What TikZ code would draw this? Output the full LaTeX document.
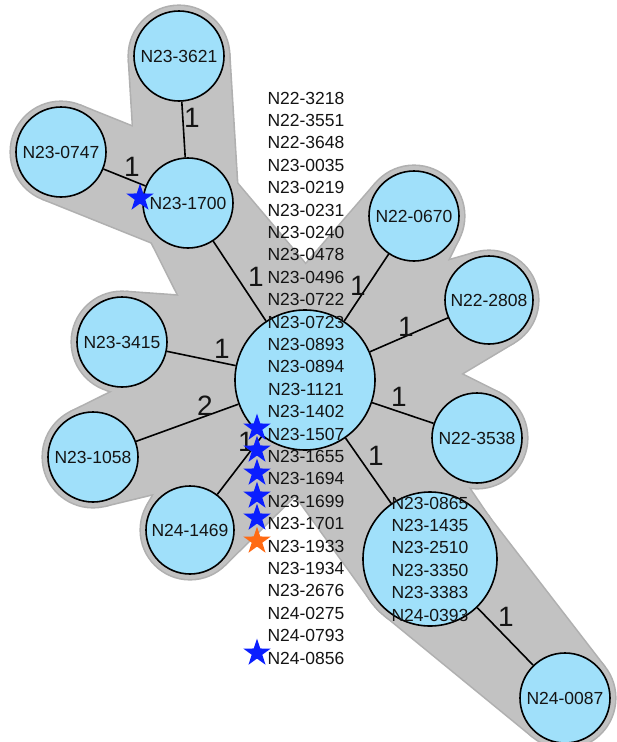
\documentclass[tikz,border=0pt]{standalone}
\usepackage{fontspec}
\setmainfont{Liberation Sans}
\usetikzlibrary{shapes.geometric,calc}
\pgfdeclarelayer{halo}
\pgfdeclarelayer{edges}
\pgfsetlayers{halo,edges,main}
\definecolor{nodefill}{HTML}{A0E0FA}
\definecolor{halofill}{HTML}{C2C2C2}
\definecolor{halorim}{HTML}{B0B0B0}
\definecolor{starblue}{HTML}{0A1EFF}
\definecolor{starorange}{HTML}{FF6A13}
\definecolor{txt}{HTML}{141414}
\tikzset{
  isolate/.style={circle, draw=black, line width=1.6pt, fill=nodefill, inner sep=0pt,
    minimum size=90pt, font=\fontsize{17.5}{22.4}\selectfont, text=txt},
  edgeline/.style={line width=1.6pt, draw=black},
  dist/.style={font=\fontsize{28}{30}\selectfont, text=txt, inner sep=0pt},
  namelist/.style={align=center, font=\fontsize{17.5}{22.4}\selectfont, inner sep=0pt, text=txt},
  bluestar/.style={star, star points=5, star point ratio=2.6, fill=starblue, draw=none,
    minimum size=29pt, inner sep=0pt},
  orangestar/.style={bluestar, fill=starorange},
}
\newcommand\haloshape[5]{%
  \fill[#1] (#2.center) circle[radius=#3pt];
  \fill[#1] (#4.center) circle[radius=#5pt];
  \fill[#1] let \p1=(#2.center), \p2=(#4.center),
     \n1={atan2(\y2-\y1,\x2-\x1)}, \n2={veclen(\x2-\x1,\y2-\y1)},
     \n3={acos((#3-#5)/\n2)} in
     ($(\p1)+({\n1+\n3}:#3pt)$) -- ($(\p2)+({\n1+\n3}:#5pt)$) --
     ($(\p2)+({\n1-\n3}:#5pt)$) -- ($(\p1)+({\n1-\n3}:#3pt)$) -- cycle;
}
\begin{document}
\begin{tikzpicture}[x=1pt,y=1pt]
\useasboundingbox (0,0) rectangle (617,-742);
% nodes
\node[isolate] (n3621) at (179,-56) {N23-3621};
\node[isolate] (n0747) at (61,-152) {N23-0747};
\node[isolate] (n1700) at (188,-203) {N23-1700};
\node[isolate, minimum size=140pt] (nC) at (305,-380) {};
\node[isolate] (n0670) at (414,-216) {N22-0670};
\node[isolate, minimum size=88pt] (n2808) at (489,-300) {N22-2808};
\node[isolate] (n3538) at (477,-438) {N22-3538};
\node[isolate] (n3415) at (122,-342) {N23-3415};
\node[isolate] (n1058) at (93,-457) {N23-1058};
\node[isolate, minimum size=88pt] (n1469) at (190,-530) {N24-1469};
\node[isolate, minimum size=134pt] (nL) at (430,-559) {};
\node[isolate] (n0087) at (565,-698) {N24-0087};
% labels of the large nodes
\node[namelist] (listC) at (306,-378) {N22-3218\\N22-3551\\N22-3648\\N23-0035\\N23-0219\\N23-0231\\N23-0240\\N23-0478\\N23-0496\\N23-0722\\N23-0723\\N23-0893\\N23-0894\\N23-1121\\N23-1402\\N23-1507\\N23-1655\\N23-1694\\N23-1699\\N23-1701\\N23-1933\\N23-1934\\N23-2676\\N24-0275\\N24-0793\\N24-0856};
\node[namelist] (listL) at (430,-559) {N23-0865\\N23-1435\\N23-2510\\N23-3350\\N23-3383\\N24-0393};
% halo
\begin{pgfonlayer}{halo}
\fill[white] (0,0) rectangle (617,-742);
\foreach \a/\ra/\b/\rb in {n3621/50/n1700/50, n0747/50/n1700/50, n1700/50/nC/75,
   nC/75/n0670/50, nC/75/n2808/49, nC/75/n3538/50, nC/75/n3415/50, nC/75/n1058/50,
   nC/75/n1469/49, nC/75/nL/72, nL/72/n0087/50}{
  \pgfmathsetmacro\rA{\ra+1.6}\pgfmathsetmacro\rB{\rb+1.6}
  \haloshape{halorim}{\a}{\rA}{\b}{\rB}
}
\foreach \a/\ra/\b/\rb in {n3621/50/n1700/50, n0747/50/n1700/50, n1700/50/nC/75,
   nC/75/n0670/50, nC/75/n2808/49, nC/75/n3538/50, nC/75/n3415/50, nC/75/n1058/50,
   nC/75/n1469/49, nC/75/nL/72, nL/72/n0087/50}{
  \haloshape{halofill}{\a}{\ra}{\b}{\rb}
}
\end{pgfonlayer}
% edges
\begin{pgfonlayer}{edges}
\draw[edgeline] (n3621) -- (n1700);
\draw[edgeline] (n0747) -- (n1700);
\draw[edgeline] (n1700) -- (nC);
\draw[edgeline] (nC) -- (n0670);
\draw[edgeline] (nC) -- (n2808);
\draw[edgeline] (nC) -- (n3538);
\draw[edgeline] (nC) -- (n3415);
\draw[edgeline] (nC) -- (n1058);
\draw[edgeline] (nC) -- (n1469);
\draw[edgeline] (nC) -- (nL);
\draw[edgeline] (nL) -- (n0087);
\end{pgfonlayer}
% distance labels
\node[dist] (d1) at (192,-118) {1};
\node[dist] (d2) at (132,-167) {1};
\node[dist] (d3) at (256,-277) {1};
\node[dist] (d4) at (358,-286) {1};
\node[dist] (d5) at (406,-327) {1};
\node[dist] (d6) at (399,-397) {1};
\node[dist] (d7) at (376,-456) {1};
\node[dist] (d8) at (222,-349) {1};
\node[dist] (d9) at (205,-406) {2};
\node[dist] (d10) at (246,-442) {1};
\node[dist] (d11) at (506,-617) {1};
% stars
\node[bluestar] (s1) at (140,-198) {};
\node[bluestar] (s2) at (257,-428) {};
\node[bluestar] (s3) at (257,-450) {};
\node[bluestar] (s4) at (257,-473) {};
\node[bluestar] (s5) at (257,-496) {};
\node[bluestar] (s6) at (257,-518) {};
\node[orangestar] (s7) at (257,-541) {};
\node[bluestar] (s8) at (257,-653) {};
\end{tikzpicture}
\end{document}
